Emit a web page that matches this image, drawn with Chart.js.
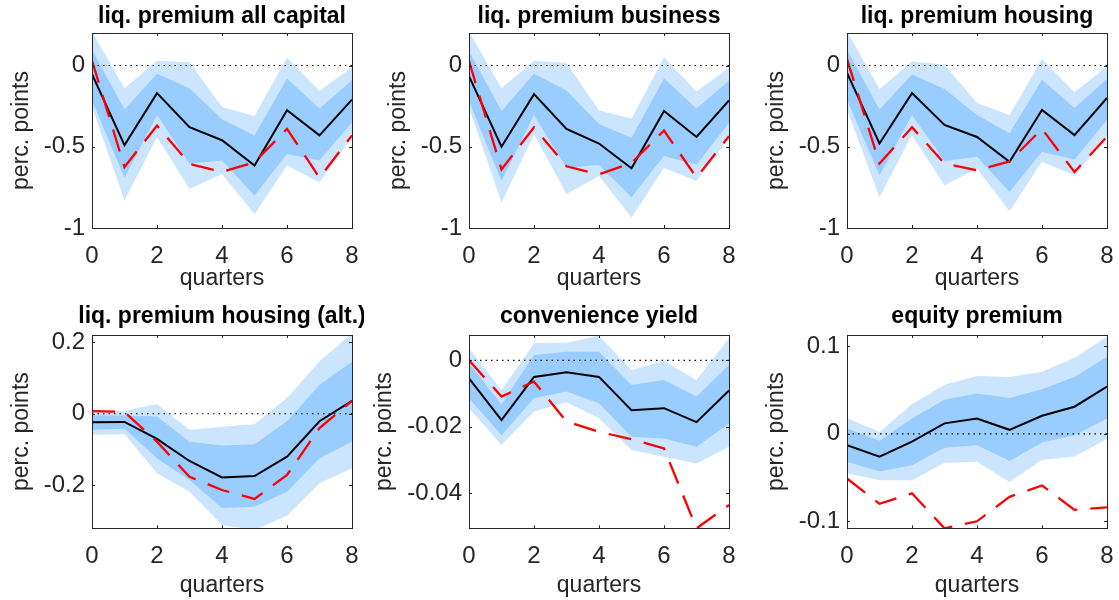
<!DOCTYPE html>
<html>
<head>
<meta charset="utf-8">
<style>
  html, body { margin: 0; padding: 0; background: #fff; }
  #wrap { position: relative; width: 1119px; height: 600px; overflow: hidden; }
  #wrap canvas { position: absolute; }
</style>
</head>
<body>
<div id="wrap"></div>
<script src="https://cdn.jsdelivr.net/npm/chart.js"></script>
<script>
// horizon (quarters)
const quarters = [0, 1, 2, 3, 4, 5, 6, 7, 8];
const xTicks = [0, 2, 4, 6, 8];

// liq. premium all capital
const allCapData  = [-0.053, -0.49, -0.17, -0.38, -0.46, -0.615, -0.275, -0.43, -0.21];
const allCapModel = [0.03, -0.625, -0.37, -0.605, -0.655, -0.595, -0.39, -0.69, -0.43];
const allCapHi90  = [0.21, -0.14, 0.03, 0.02, -0.255, -0.31, 0.05, -0.155, -0.01];
const allCapLo90  = [-0.255, -0.83, -0.44, -0.76, -0.667, -0.915, -0.615, -0.72, -0.44];
const allCapHi68  = [0.095, -0.27, -0.05, -0.14, -0.33, -0.43, -0.08, -0.265, -0.09];
const allCapLo68  = [-0.215, -0.69, -0.305, -0.605, -0.585, -0.8, -0.545, -0.585, -0.35];

// liq. premium business
const busData  = [-0.066, -0.5, -0.176, -0.39, -0.48, -0.633, -0.28, -0.44, -0.215];
const busModel = [0.027, -0.64, -0.38, -0.62, -0.67, -0.6, -0.4, -0.69, -0.435];
const busHi90  = [0.21, -0.14, 0.03, 0.016, -0.277, -0.326, 0.05, -0.158, -0.014];
const busLo90  = [-0.26, -0.845, -0.425, -0.79, -0.68, -0.936, -0.63, -0.71, -0.445];
const busHi68  = [0.088, -0.28, -0.05, -0.154, -0.36, -0.445, -0.08, -0.264, -0.092];
const busLo68  = [-0.22, -0.71, -0.305, -0.63, -0.61, -0.81, -0.557, -0.61, -0.352];

// liq. premium housing
const houseData  = [-0.045, -0.48, -0.17, -0.366, -0.44, -0.593, -0.273, -0.428, -0.2];
const houseModel = [0.04, -0.603, -0.38, -0.603, -0.645, -0.59, -0.39, -0.655, -0.438];
const houseHi90  = [0.21, -0.145, 0.025, 0.006, -0.23, -0.304, 0.04, -0.165, -0.004];
const houseLo90  = [-0.273, -0.81, -0.428, -0.738, -0.634, -0.897, -0.593, -0.676, -0.438];
const houseHi68  = [0.095, -0.27, -0.056, -0.145, -0.304, -0.417, -0.087, -0.262, -0.083];
const houseLo68  = [-0.21, -0.676, -0.304, -0.587, -0.562, -0.779, -0.531, -0.578, -0.335];

// liq. premium housing (alt.)
const altData  = [-0.024, -0.023, -0.07, -0.132, -0.178, -0.174, -0.12, -0.021, 0.036];
const altModel = [0.0075, 0.005, -0.078, -0.176, -0.213, -0.238, -0.171, -0.04, 0.036];
const altHi90  = [0.0065, 0.008, 0.027, -0.045, -0.036, -0.029, 0.044, 0.147, 0.225];
const altLo90  = [-0.059, -0.057, -0.166, -0.218, -0.311, -0.325, -0.285, -0.194, -0.152];
const altHi68  = [-0.005, -0.005, -0.0075, -0.078, -0.089, -0.085, -0.021, 0.081, 0.145];
const altLo68  = [-0.045, -0.042, -0.124, -0.185, -0.263, -0.26, -0.218, -0.124, -0.078];

// convenience yield
const convData  = [-0.0054, -0.018, -0.005, -0.0036, -0.005, -0.015, -0.0144, -0.0186, -0.0091];
const convModel = [0, -0.0109, -0.0064, -0.0184, -0.0215, -0.0237, -0.0265, -0.0505, -0.0435];
const convHi90  = [0.0036, -0.0089, 0.0051, 0.0053, 0.0074, -0.0029, -0.0002, -0.0059, 0.0066];
const convLo90  = [-0.0144, -0.0255, -0.0154, -0.0126, -0.0174, -0.027, -0.029, -0.031, -0.026];
const convHi68  = [-0.0009, -0.0132, 0.0016, 0.0026, 0.0026, -0.0074, -0.0059, -0.0109, -0.0014];
const convLo68  = [-0.0114, -0.0225, -0.0114, -0.0094, -0.0129, -0.023, -0.0235, -0.026, -0.019];

// equity premium
const eqData  = [-0.013, -0.026, -0.009, 0.012, 0.0176, 0.0046, 0.0206, 0.031, 0.054];
const eqModel = [-0.051, -0.08, -0.068, -0.108, -0.1, -0.072, -0.059, -0.087, -0.084];
const eqHi90  = [0.018, 0.002, 0.034, 0.056, 0.066, 0.065, 0.071, 0.087, 0.111];
const eqLo90  = [-0.045, -0.053, -0.053, -0.033, -0.032, -0.055, -0.03, -0.026, -0.006];
const eqHi68  = [0.006, -0.008, 0.0176, 0.039, 0.046, 0.041, 0.051, 0.065, 0.088];
const eqLo68  = [-0.032, -0.043, -0.036, -0.016, -0.013, -0.031, -0.01, -0.0015, 0.0176];

// y tick values / labels
const ticksLiq = [-1, -0.5, 0];
const labelsLiq = ['-1', '-0.5', '0'];
const ticksAlt = [-0.2, 0, 0.2];
const labelsAlt = ['-0.2', '0', '0.2'];
const ticksConv = [-0.04, -0.02, 0];
const labelsConv = ['-0.04', '-0.02', '0'];
const ticksEq = [-0.1, 0, 0.1];
const labelsEq = ['-0.1', '0', '0.1'];

const AXIS = '#262626';
const LIGHT = 'rgb(204,229,255)';
const DARK = 'rgb(153,204,255)';
const FONT = 'Liberation Sans, Arial, Helvetica, sans-serif';

// box + inward tick marks, like matlab axes
const boxPlugin = {
  id: 'box',
  afterDatasetsDraw(chart) {
    const {ctx, chartArea: a, scales: {x, y}} = chart;
    ctx.save();
    ctx.strokeStyle = AXIS;
    ctx.lineWidth = 1;
    ctx.beginPath();
    x.ticks.forEach(t => {
      const px = Math.round(x.getPixelForValue(t.value)) + 0.5;
      ctx.moveTo(px, a.bottom); ctx.lineTo(px, a.bottom - 3);
      ctx.moveTo(px, a.top); ctx.lineTo(px, a.top + 3);
    });
    y.ticks.forEach(t => {
      const py = Math.round(y.getPixelForValue(t.value)) + 0.5;
      ctx.moveTo(a.left, py); ctx.lineTo(a.left + 3, py);
      ctx.moveTo(a.right, py); ctx.lineTo(a.right - 3, py);
    });
    ctx.stroke();
    ctx.strokeRect(Math.round(a.left) + 0.5, Math.round(a.top) + 0.5,
                   Math.round(a.right - a.left), Math.round(a.bottom - a.top));
    ctx.restore();
  }
};

// panel title centred over the axes, allowed to run past them
const panelTitle = {
  id: 'panelTitle',
  afterDraw(chart, args, opts) {
    const {ctx, chartArea: a} = chart;
    ctx.save();
    ctx.font = 'bold 23px ' + FONT;
    ctx.fillStyle = '#000';
    ctx.textAlign = 'center';
    ctx.textBaseline = 'middle';
    ctx.fillText(opts.text, (a.left + a.right) / 2, opts.y);
    ctx.restore();
  }
};

function makePanel(p) {
  const c = document.createElement('canvas');
  c.width = p.w; c.height = p.h;
  c.style.left = p.left + 'px'; c.style.top = p.top + 'px';
  document.getElementById('wrap').appendChild(c);

  const pts = arr => quarters.map((q, i) => ({x: q, y: arr[i]}));
  const band = (arr, fill, color, order) => ({
    data: pts(arr), borderColor: 'transparent', borderWidth: 0, pointRadius: 0,
    fill: fill, backgroundColor: color, order: order, tension: 0
  });
  const bottomRow = p.top > 0;

  new Chart(c, {
    type: 'line',
    data: {
      datasets: [
        band(p.lo90, false, 'transparent', 6),
        band(p.hi90, '-1', LIGHT, 6),
        band(p.lo68, false, 'transparent', 5),
        band(p.hi68, '-1', DARK, 5),
        { data: quarters.map(q => ({x: q, y: 0})), borderColor: '#000', borderWidth: 1.2,
          borderDash: [1.5, 4], pointRadius: 0, fill: false, order: 3 },
        { data: pts(p.data), borderColor: '#000', borderWidth: 2, pointRadius: 0, fill: false, order: 2 },
        { data: pts(p.model), borderColor: '#ff0000', borderWidth: 2.3, borderDash: [23, 13],
          pointRadius: 0, fill: false, order: 1 }
      ]
    },
    options: {
      responsive: false,
      animation: false,
      layout: { padding: { left: 0, right: 12, top: bottomRow ? 40 : 33, bottom: 0 } },
      plugins: {
        legend: { display: false },
        tooltip: { enabled: false },
        title: { display: false },
        panelTitle: { text: p.title, y: bottomRow ? 21.8 : 16.8 }
      },
      scales: {
        x: {
          type: 'linear', min: 0, max: 8,
          afterBuildTicks: s => { s.ticks = xTicks.map(v => ({value: v})); },
          afterFit: s => {
            s.height = bottomRow ? 71.7 : 67;
            s.paddingLeft = 0; s.paddingRight = 0;
          },
          grid: { display: false, drawTicks: false },
          border: { display: false },
          ticks: { color: AXIS, font: { family: FONT, size: 24 }, padding: 14, maxRotation: 0, autoSkip: false,
                   callback: v => String(v) },
          title: { display: true, text: 'quarters', color: AXIS, font: { family: FONT, size: 23 },
                   padding: { top: 0, bottom: bottomRow ? 1 : 3 } }
        },
        y: {
          type: 'linear', min: p.yMin, max: p.yMax,
          afterBuildTicks: s => { s.ticks = p.yTicks.map(v => ({value: v})); },
          afterFit: s => { s.width = p.yw; s.paddingTop = 0; s.paddingBottom = 0; },
          grid: { display: false, drawTicks: false },
          border: { display: false },
          ticks: { color: AXIS, font: { family: FONT, size: 24 }, padding: 7, autoSkip: false,
                   callback: (v, i) => p.yLabels[i] },
          title: { display: true, text: 'perc. points', color: AXIS, font: { family: FONT, size: 23 },
                   padding: { top: 8, bottom: 0 } }
        }
      }
    },
    plugins: [boxPlugin, panelTitle]
  });
}

makePanel({ title: 'liq. premium all capital', left: 0, top: 0, w: 364, h: 295, yw: 92,
  yMin: -1, yMax: 0.2, yTicks: ticksLiq, yLabels: labelsLiq,
  data: allCapData, model: allCapModel, hi90: allCapHi90, lo90: allCapLo90, hi68: allCapHi68, lo68: allCapLo68 });
makePanel({ title: 'liq. premium business', left: 377, top: 0, w: 364, h: 295, yw: 92,
  yMin: -1, yMax: 0.2, yTicks: ticksLiq, yLabels: labelsLiq,
  data: busData, model: busModel, hi90: busHi90, lo90: busLo90, hi68: busHi68, lo68: busLo68 });
makePanel({ title: 'liq. premium housing', left: 755, top: 0, w: 364, h: 295, yw: 92,
  yMin: -1, yMax: 0.2, yTicks: ticksLiq, yLabels: labelsLiq,
  data: houseData, model: houseModel, hi90: houseHi90, lo90: houseLo90, hi68: houseHi68, lo68: houseLo68 });
makePanel({ title: 'liq. premium housing (alt.)', left: 0, top: 295, w: 364, h: 305, yw: 92,
  yMin: -0.32, yMax: 0.22, yTicks: ticksAlt, yLabels: labelsAlt,
  data: altData, model: altModel, hi90: altHi90, lo90: altLo90, hi68: altHi68, lo68: altLo68 });
makePanel({ title: 'convenience yield', left: 363, top: 295, w: 378, h: 305, yw: 106,
  yMin: -0.0505, yMax: 0.0076, yTicks: ticksConv, yLabels: labelsConv,
  data: convData, model: convModel, hi90: convHi90, lo90: convLo90, hi68: convHi68, lo68: convLo68 });
makePanel({ title: 'equity premium', left: 755, top: 295, w: 364, h: 305, yw: 92,
  yMin: -0.108, yMax: 0.113, yTicks: ticksEq, yLabels: labelsEq,
  data: eqData, model: eqModel, hi90: eqHi90, lo90: eqLo90, hi68: eqHi68, lo68: eqLo68 });
</script>
</body>
</html>
